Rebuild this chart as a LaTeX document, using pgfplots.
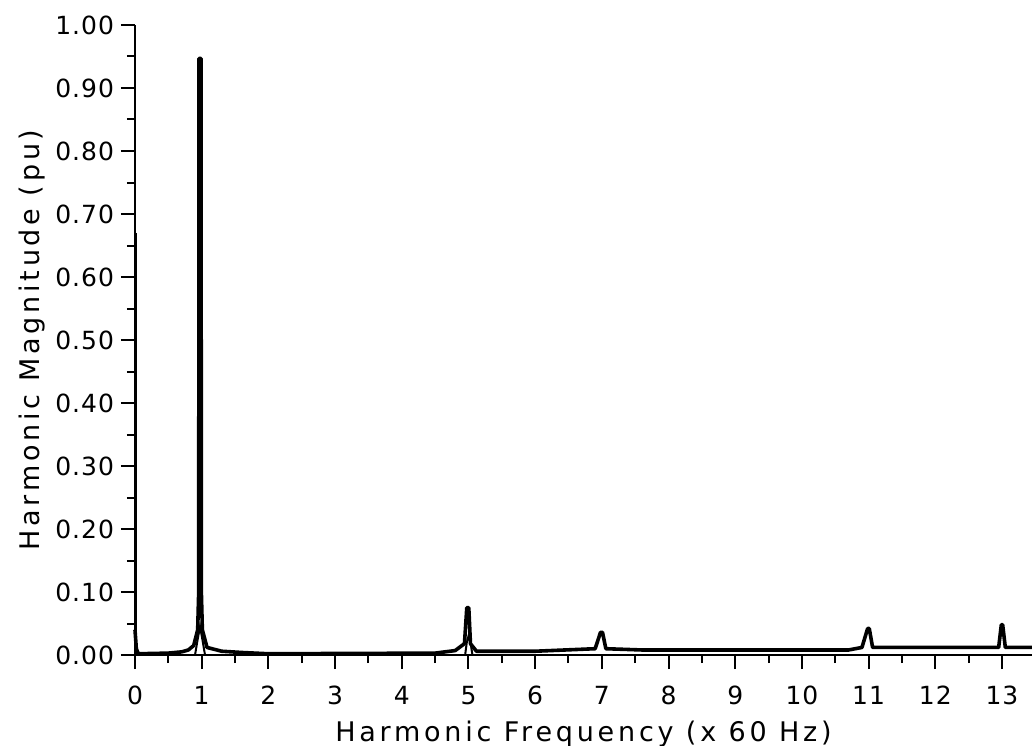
\documentclass[border=0pt]{standalone}
\usepackage{fontspec}
\setmainfont{DejaVu Sans}[LetterSpace=4]
\newfontfamily\labelfont{DejaVu Sans}[LetterSpace=14]
\usepackage{pgfplots}
\pgfplotsset{compat=1.18}
\begin{document}
\begin{tikzpicture}
\begin{axis}[
  scale only axis,
  width=448.5pt, height=315pt,
  xmin=0, xmax=13.45, ymin=0, ymax=1,
  axis lines=left,
  axis line style={-, line width=1pt},
  xtick={0,1,...,13},
  minor x tick num=1,
  ytick={0,0.1,...,1.0},
  minor y tick num=1,
  tick align=outside,
  major tick length=7pt,
  minor tick length=4pt,
  every tick/.style={black, line width=1pt},
  tick label style={font=\fontsize{12.5}{14}\selectfont},
  xticklabel style={yshift=-5pt},
  /pgf/number format/assume math mode=true,
  yticklabel style={/pgf/number format/.cd, fixed, fixed zerofill, precision=2},
  xlabel={Harmonic Frequency (x 60 Hz)},
  ylabel={Harmonic Magnitude (pu)},
  label style={font=\labelfont\fontsize{13.5}{15}\selectfont},
  xlabel style={yshift=-1pt},
  ylabel style={yshift=-2pt},
  clip=false,
]
\coordinate (SW) at (rel axis cs:0,0);
\coordinate (NE) at (rel axis cs:1,1);
\addplot[black, line width=1.2pt] coordinates {
(0.01,0.670) (0.01,0.000)
};
\addplot[black, line width=1.8pt, line join=round] coordinates {
(0.00,0.040) (0.02,0.010) (0.05,0.002)
(0.50,0.003) (0.70,0.005) (0.80,0.008) (0.88,0.015) (0.94,0.040)
(0.955,0.10) (0.96,0.947) (0.99,0.947) (0.995,0.10) (1.01,0.040)
(1.08,0.012) (1.30,0.006) (1.60,0.004) (2.00,0.002)
(4.50,0.003) (4.80,0.007) (4.94,0.018) (4.975,0.075) (5.005,0.075) (5.03,0.018)
(5.12,0.006) (6.00,0.006) (6.90,0.010) (6.98,0.036) (7.01,0.036) (7.06,0.010)
(7.60,0.008) (10.70,0.008) (10.90,0.012) (10.985,0.042) (11.01,0.042)
(11.06,0.012) (12.95,0.012) (12.99,0.048) (13.01,0.048) (13.05,0.012)
(13.45,0.012)
};
\addplot[black, line width=1pt] coordinates {
(0.90,0.0) (0.94,0.025) (0.975,0.045) (1.01,0.025) (1.05,0.0)
};
\addplot[black, line width=1pt] coordinates {
(4.95,0.0) (4.975,0.02) (5.0,0.03) (5.03,0.02) (5.06,0.0)
};
\end{axis}
\pgfresetboundingbox
\path[use as bounding box] ([shift={(-67.5pt,-45pt)}]SW) rectangle ([shift={(0pt,12.5pt)}]NE);
\end{tikzpicture}
\end{document}
